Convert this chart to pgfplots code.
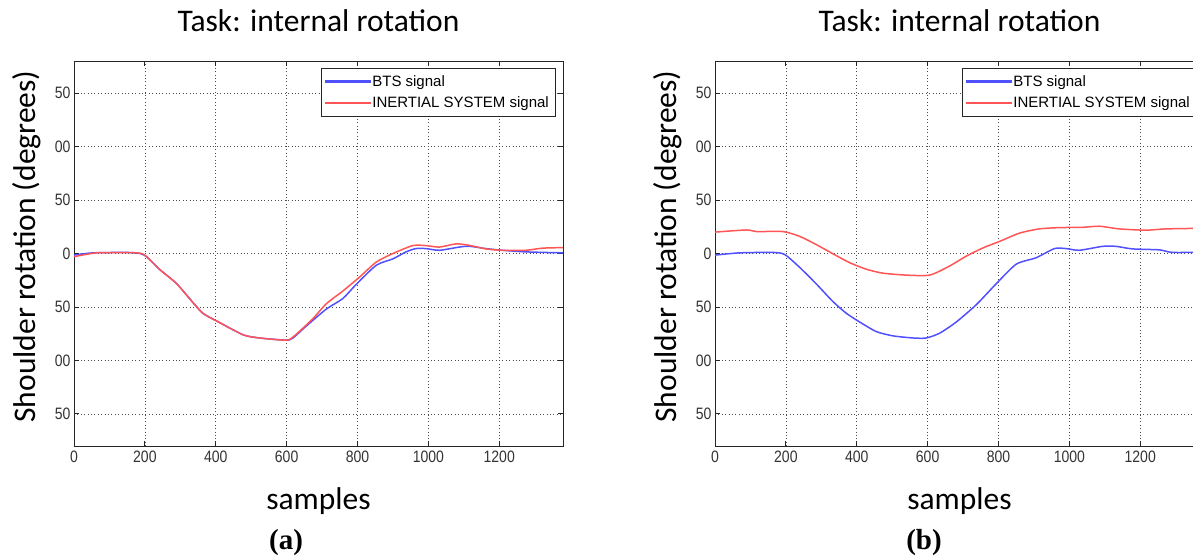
\documentclass[border=0pt]{standalone}
\usepackage{fontspec}
\setmainfont{Carlito}
\newfontfamily\arialf{Liberation Sans}
\newfontfamily\timesf{Liberation Serif}
\usepackage{graphicx}
\usepackage{pgfplots}
\pgfplotsset{compat=1.18}

\definecolor{btsblue}{RGB}{80,80,255}
\definecolor{inred}{RGB}{255,85,85}
\newcommand\sq[1]{\scalebox{0.85}[1]{#1}}
\newcommand\bigfont{\fontsize{31.5}{37}\selectfont}

\pgfplotsset{
  panel/.style={
    scale only axis, width=489pt, height=385pt,
    xmin=0, xmax=1380, ymin=-180, ymax=180,
    xtick={0,200,400,600,800,1000,1200},
    xticklabels={\sq{0},\sq{200},\sq{400},\sq{600},\sq{800},\sq{1000},\sq{1200}},
    ytick={-150,-100,-50,0,50,100,150},
    yticklabels={\sq{50},\sq{00},\sq{50},\sq{0},\sq{50},\sq{00},\sq{50}},
    tick align=inside, tick pos=both, major tick length=5pt,
    grid=major,
    grid style={black!70, line width=0.7pt, dash pattern=on 0.8pt off 2.6pt},
    axis line style={black!85, line width=0.9pt},
    tick style={black!85, line width=0.9pt},
    tick label style={font=\arialf\fontsize{16.5}{16.5}\selectfont, text=black!80},
    xticklabel style={yshift=-1pt},
    title={Task: internal rotation},
    title style={font=\bigfont, at={(axis description cs:0.5,1.06)}, anchor=base},
    xlabel={samples},
    xlabel style={font=\bigfont, at={(axis description cs:0.5,-0.165)}, anchor=base},
    ylabel={Shoulder rotation (degrees)},
    ylabel style={font=\bigfont, at={(axis description cs:-0.096,0.518)}, anchor=center},
    legend style={at={(axis description cs:0.9836,0.9818)}, anchor=north east,
      font=\arialf\fontsize{15}{15}\selectfont, draw=black!85,
      fill=white, row sep=5pt, inner xsep=4pt, inner ysep=5pt},
    legend cell align=left,
  },
  bts/.style={draw=btsblue, line width=1.5pt, smooth, tension=0.4, forget plot},
  ins/.style={draw=inred, line width=1.5pt, smooth, tension=0.4, forget plot},
  btskey/.style={legend image code/.code={\fill[btsblue] (0pt,-0.75pt) rectangle (45pt,0.75pt);}},
  inskey/.style={legend image code/.code={\fill[inred] (0pt,-0.75pt) rectangle (45pt,0.75pt);}},
}

\begin{document}
\begin{tikzpicture}
% panel (a)
\begin{axis}[panel, at={(74pt,111pt)}, anchor=south west]
\addplot[bts] coordinates {
 (0,-1.5) (54,0.6) (148,1) (186,0) (205,-3) (242,-15) (289,-28) (336,-46)
 (364,-56) (402,-63) (477,-76) (524,-79) (599,-81) (618,-79) (655,-68)
 (712,-52) (759,-42) (796,-29) (853,-11) (900,-5) (937,1.5) (965,4.6)
 (993,4.6) (1031,3) (1087,6) (1115,6.8) (1162,4.6) (1209,3) (1275,1.5) (1380,0.6)
};
\addplot[ins] coordinates {
 (0,-3) (64,0.6) (148,0.8) (195,-0.6) (242,-15) (289,-28) (336,-46)
 (364,-56) (402,-63) (477,-76) (524,-79) (599,-81) (622,-77) (674,-61)
 (712,-47) (759,-35) (806,-22) (853,-8) (900,0) (956,7.4) (993,7.4)
 (1031,6) (1078,9) (1115,7.7) (1162,4.3) (1209,3) (1275,3) (1322,5) (1380,5.5)
};
\addlegendimage{btskey}
\addlegendentry{BTS signal}
\addlegendimage{inskey}
\addlegendentry{INERTIAL SYSTEM signal}
\end{axis}
% panel (b)
\begin{axis}[panel, at={(715pt,111pt)}, anchor=south west]
\addplot[bts] coordinates {
 (0,-1.5) (70,0.6) (164,1) (197,-1) (239,-13) (286,-28.5) (333,-45) (371,-56)
 (408,-64) (455,-73) (502,-77) (559,-79) (596,-79) (634,-74.5) (681,-64)
 (737,-48) (793,-28.5) (850,-10) (906,-4) (958,4.6) (991,4.6) (1028,3)
 (1094,6.7) (1131,6.7) (1178,4.3) (1254,3.4) (1291,1) (1380,1.2)
};
\addplot[ins] coordinates {
 (0,20) (89,22) (117,20.5) (192,20.5) (239,16) (286,8.3) (333,-0.3) (380,-8.6)
 (427,-14.7) (474,-18.4) (540,-20.2) (606,-20.2) (662,-11.7) (709,-2.5)
 (756,5.2) (803,11.3) (859,19) (915,23) (972,24.2) (1038,24.5) (1085,25.5)
 (1141,23) (1216,21.8) (1272,23) (1380,23.6)
};
\addlegendimage{btskey}
\addlegendentry{BTS signal}
\addlegendimage{inskey}
\addlegendentry{INERTIAL SYSTEM signal}
\end{axis}
\node[font=\timesf\bfseries\fontsize{29}{29}\selectfont, anchor=base] at (286pt,8pt) {(a)};
\node[font=\timesf\bfseries\fontsize{29}{29}\selectfont, anchor=base] at (924pt,8pt) {(b)};
\pgfresetboundingbox
\path[use as bounding box] (0pt,0pt) rectangle (1193pt,557pt);
\end{tikzpicture}
\end{document}
